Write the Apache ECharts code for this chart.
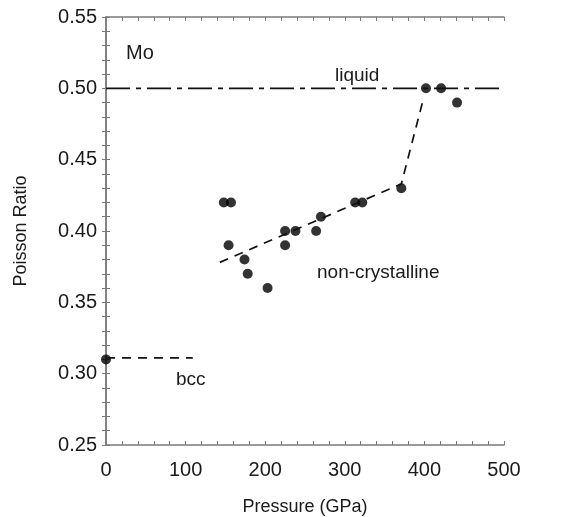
<!DOCTYPE html>
<html>
<head>
<meta charset="utf-8">
<script src="https://cdn.jsdelivr.net/npm/echarts@6/dist/echarts.min.js"></script>
<style>
  html, body { margin: 0; padding: 0; background: #fff; }
  #chart { width: 561px; height: 517px; }
</style>
</head>
<body>
<div id="chart"></div>
<script>
// measured points (pressure GPa, Poisson ratio)
const pointPressure = [0, 148, 157, 154, 174, 178, 203, 225, 225, 238, 264, 270, 313, 322, 371, 402, 421, 441];
const pointRatio    = [0.31, 0.42, 0.42, 0.39, 0.38, 0.37, 0.36, 0.40, 0.39, 0.40, 0.40, 0.41, 0.42, 0.42, 0.43, 0.50, 0.50, 0.49];

// guide lines
const fitPressure = [143, 371, 398];
const fitRatio    = [0.378, 0.433, 0.491];
const bccPressure = [0, 109];
const bccRatio    = [0.311, 0.311];
const liquidPressure = [0, 500];
const liquidRatio    = [0.50, 0.50];

const xTicks = [0, 100, 200, 300, 400, 500];
const yTicks = [0.25, 0.30, 0.35, 0.40, 0.45, 0.50, 0.55];

const zip = (a, b) => a.map((v, i) => [v, b[i]]);

const textColor = '#1a1a1a';
const axisColor = '#7a7a7a';
const font = 'Liberation Sans, Arial, sans-serif';

const chart = echarts.init(document.getElementById('chart'));

// ticks every 20 GPa / 0.01, labels only on the major values
const baseX = {
  type: 'value', min: xTicks[0], max: xTicks[xTicks.length - 1], interval: 20,
  axisLine: { show: true, lineStyle: { color: axisColor, width: 1.5 } },
  axisTick: { show: true, inside: true, length: 4, lineStyle: { color: axisColor } },
  splitLine: { show: false }
};
const baseY = {
  type: 'value', min: yTicks[0], max: yTicks[yTicks.length - 1], interval: 0.01,
  axisLine: { show: true, lineStyle: { color: axisColor, width: 1.5 } },
  axisTick: { show: true, inside: true, length: 4, lineStyle: { color: axisColor } },
  splitLine: { show: false }
};

const xLabel = v => (xTicks.indexOf(Math.round(v)) >= 0 ? String(Math.round(v)) : '');
const yLabel = v => {
  const r = Math.round(v * 100) / 100;
  return yTicks.some(t => Math.abs(t - r) < 1e-6) ? r.toFixed(2) : '';
};

chart.setOption({
  animation: false,
  backgroundColor: '#fff',
  grid: { left: 106, right: 57, top: 17, bottom: 72, outerBoundsMode: 'none', containLabel: false },
  xAxis: [
    Object.assign({}, baseX, {
      position: 'bottom',
      name: 'Pressure (GPa)', nameLocation: 'middle', nameGap: 53,
      nameTextStyle: { color: textColor, fontSize: 18, fontFamily: font },
      axisLabel: { color: textColor, fontSize: 20, fontFamily: font, margin: 15, formatter: xLabel }
    }),
    Object.assign({}, baseX, { position: 'top', axisLabel: { show: false } })
  ],
  yAxis: [
    Object.assign({}, baseY, {
      position: 'left',
      name: 'Poisson Ratio', nameLocation: 'middle', nameGap: 76,
      nameTextStyle: { color: textColor, fontSize: 18, fontFamily: font },
      axisLabel: { color: textColor, fontSize: 20, fontFamily: font, margin: 9, formatter: yLabel }
    }),
    Object.assign({}, baseY, { position: 'right', axisLabel: { show: false } })
  ],
  series: [
    {
      type: 'line', data: zip(liquidPressure, liquidRatio), symbol: 'none', silent: true,
      lineStyle: { color: '#111', width: 1.7, type: [24, 6, 5, 6] }
    },
    {
      type: 'line', data: zip(bccPressure, bccRatio), symbol: 'none', silent: true,
      lineStyle: { color: '#111', width: 1.7, type: [9, 7] }
    },
    {
      type: 'line', data: zip(fitPressure, fitRatio), symbol: 'none', silent: true,
      lineStyle: { color: '#111', width: 1.7, type: [9, 7] }
    },
    {
      type: 'scatter', data: zip(pointPressure, pointRatio), symbol: 'circle', symbolSize: 10,
      itemStyle: { color: '#000' }
    }
  ],
  graphic: [
    { type: 'text', left: 126, top: 43, style: { text: 'Mo', fill: textColor, fontSize: 20, fontFamily: font } },
    { type: 'text', left: 335, top: 66, style: { text: 'liquid', fill: textColor, fontSize: 19, fontFamily: font } },
    { type: 'text', left: 317, top: 263, style: { text: 'non-crystalline', fill: textColor, fontSize: 19, fontFamily: font } },
    { type: 'text', left: 176, top: 370, style: { text: 'bcc', fill: textColor, fontSize: 19, fontFamily: font } }
  ]
});
</script>
</body>
</html>
